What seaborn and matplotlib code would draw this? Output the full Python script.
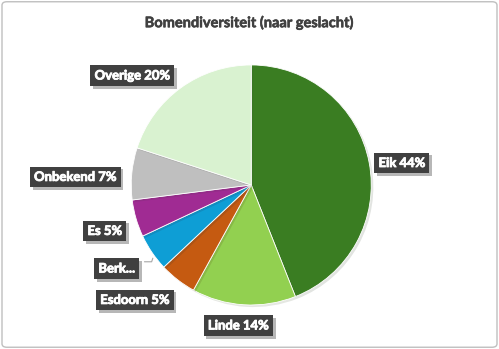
import matplotlib
matplotlib.use("Agg")
import matplotlib.pyplot as plt
import matplotlib.patheffects as pe
from matplotlib.patches import FancyBboxPatch
import seaborn as sns

# Tree genus shares (percent)
genera = ["Eik", "Linde", "Esdoorn", "Berk", "Es", "Onbekend", "Overige"]
shares = [44, 14, 5, 5, 5, 7, 20]
labels = ["Eik 44%", "Linde 14%", "Esdoorn 5%", "Berk...", "Es 5%", "Onbekend 7%", "Overige 20%"]
colors = ["#3A7D22", "#92D050", "#C55A11", "#0E9ED5", "#A02B93", "#BFBFBF", "#D9F2D0"]

sns.set_theme(style="white")
plt.rcParams["font.family"] = ["Lato", "DejaVu Sans"]

fig = plt.figure(figsize=(4.99, 3.49), dpi=100)
fig.patch.set_facecolor("white")

# rounded chart border
frame = FancyBboxPatch((0.004, 0.005), 0.992, 0.99, boxstyle="round,pad=0,rounding_size=0.01",
                       transform=fig.transFigure, facecolor="none", edgecolor="#BFBFBF", linewidth=1.0)
fig.patches.append(frame)

fig.text(0.5, 0.935, "Bomendiversiteit (naar geslacht)", ha="center", va="center",
         fontsize=10.5, fontweight="bold", color="#404040",
         path_effects=[pe.withStroke(linewidth=0.4, foreground="#404040")])

ax = fig.add_axes([0.263, 0.126, 0.481, 0.688])
wedges, _ = ax.pie(shares, colors=colors, startangle=90, counterclock=False,
                   wedgeprops=dict(edgecolor="white", linewidth=0.6))
ax.set_xlim(-1, 1)
ax.set_ylim(-1, 1)
ax.set_aspect("equal")
ax.axis("off")

for w in wedges:
    w.set_path_effects([pe.SimplePatchShadow(offset=(1.5, -1.5), alpha=0.12), pe.Normal()])

# label placement around the pie, in axes data units
label_pos = [(1.254, 0.183), (-0.108, -1.171), (-0.971, -0.958), (-1.121, -0.696),
             (-1.221, -0.383), (-1.467, 0.067), (-0.992, 0.912)]

for lab, (lx, ly) in zip(labels, label_pos):
    t = ax.text(lx, ly, lab, ha="center", va="center", fontsize=9.4, fontweight="bold",
                color="white", clip_on=False,
                path_effects=[pe.withStroke(linewidth=0.6, foreground="white")],
                bbox=dict(boxstyle="square,pad=0.33", facecolor="#404040", edgecolor="none"))
    t.get_bbox_patch().set_path_effects([pe.SimplePatchShadow(offset=(2, -2), alpha=0.3), pe.Normal()])

# leader line for the truncated label
ax.plot([-0.89, -0.83, -0.82], [-0.64, -0.64, -0.61], color="#A6A6A6", linewidth=0.8, clip_on=False)

fig.savefig("out.png", dpi=100, facecolor="white")
